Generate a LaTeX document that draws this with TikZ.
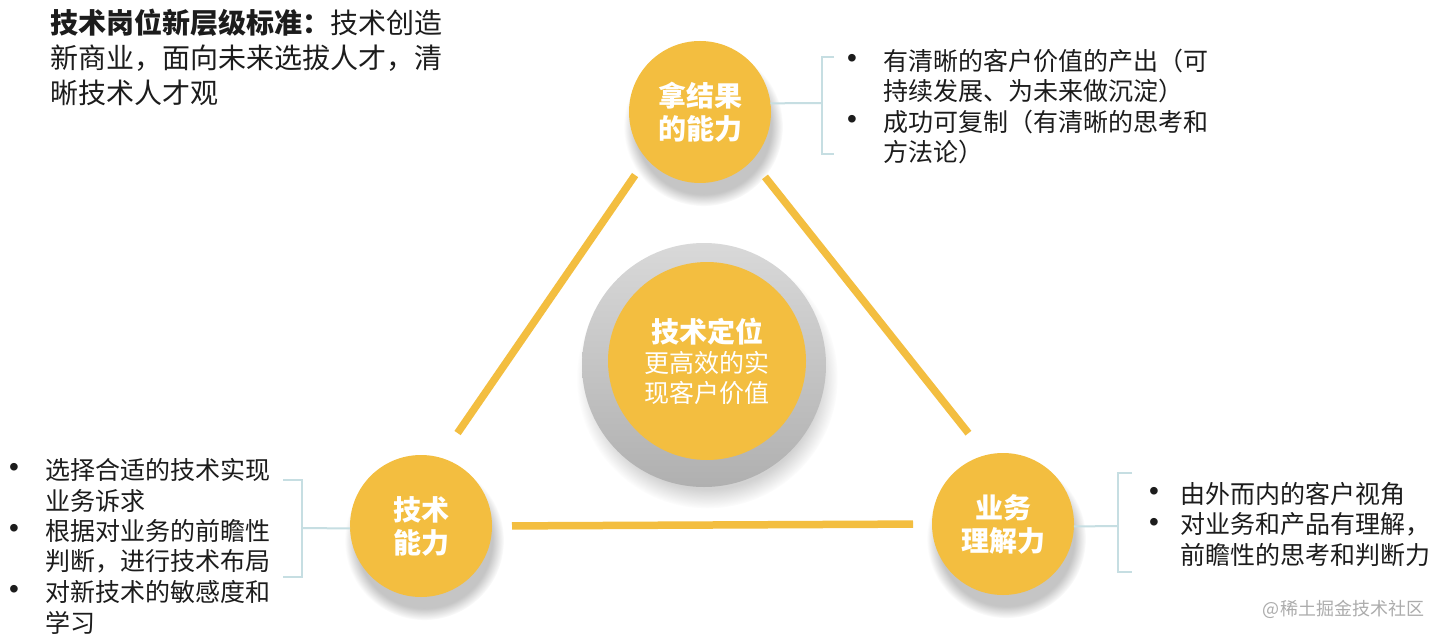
\documentclass[tikz,border=0pt]{standalone}
\usepackage{fontspec}
\setmainfont{Noto Sans CJK SC}
\newfontfamily\bulfont{Liberation Sans}
\usepackage{tikz}
\usetikzlibrary{shadows,fadings,positioning,calc}
\definecolor{ballyellow}{RGB}{243,190,64}
\definecolor{bracegray}{RGB}{198,222,226}
\definecolor{inkgray}{RGB}{28,28,28}

\begin{document}
\begin{tikzpicture}[
        x=1pt, y=-1pt,
        every node/.style={inner sep=0pt, outer sep=0pt, text=inkgray},
        ball/.style={circle, fill=ballyellow, minimum size=142pt, align=center, text=white,
            font=\bfseries\fontsize{28}{33}\selectfont,
            circular drop shadow={shadow xshift=3pt, shadow yshift=-13pt, shadow scale=1.12, opacity=0.45}},
        ring/.style={circle, minimum size=244pt, top color=gray!30, bottom color=gray!62,
            circular drop shadow={shadow xshift=3pt, shadow yshift=-12pt, shadow scale=1.07, opacity=0.35}},
        core/.style={circle, fill=ballyellow, minimum size=198pt, align=center, text=white,
            font=\fontsize{25}{30}\selectfont},
        link/.style={draw=ballyellow, line width=7.5pt},
        brace/.style={draw=bracegray, line width=2pt},
        item/.style={anchor=west, align=left, font=\fontsize{25}{30.5}\selectfont},
        dot/.style={font=\bulfont\fontsize{28}{30}\selectfont}
    ]
        \fill[white] (0,0) rectangle (1440,639);
        \useasboundingbox (0,0) rectangle (1440,639);

        % title
        \node[item, font=\fontsize{28}{35}\selectfont] (title) at (50,57)
            {{\bfseries 技术岗位新层级标准：}技术创造\\新商业，面向未来选拔人才，清\\晰技术人才观};

        % circles
        \node[ring] (Pos) at (704,365) {};
        \node[core] (Core) at (707,361)
            {{\bfseries\fontsize{28}{30}\selectfont 技术定位}\\更高效的实\\现客户价值};
        \node[ball] (R) at (700,112) {拿结果\\的能力};
        \node[ball] (T) at (421,526) {技术\\能力};
        \node[ball] (B) at (1003,524) {业务\\理解力};

        \path[link]
            (R.221) edge[shorten <=20pt, shorten >=30pt] (T.74.5)
            (R.317) edge[shorten <=21pt, shorten >=28pt] (B.104)
            (T.0) edge[shorten <=20pt, shorten >=19pt] (B.180);

        % brackets
        \coordinate (rbr) at (822,103);
        \coordinate (lbr) at (302,528);
        \coordinate (bbr) at (1118,526);
        \draw[brace] (R.7) -- (rbr);
        \draw[brace] ($(rbr)+(12,-46)$) -| (rbr) |- ($(rbr)+(12,51)$);
        \draw[brace] (T.182) -- (lbr);
        \draw[brace] ($(lbr)+(-19,-48)$) -| (lbr) |- ($(lbr)+(-19,49)$);
        \draw[brace] (B.358) -- (bbr);
        \draw[brace] ($(bbr)+(14,-53)$) -| (bbr) |- ($(bbr)+(14,46)$);

        % result list
        \node[dot] (r1) at (852,61) {•};
        \node[item] (r1t) at (883,76.25) {有清晰的客户价值的产出（可\\持续发展、为未来做沉淀）};
        \node[dot] (r2) at (852,122) {•};
        \node[item] (r2t) at (883,137.25) {成功可复制（有清晰的思考和\\方法论）};

        % tech list
        \node[dot] (t1) at (14,470) {•};
        \node[item] (t1t) at (45,485.25) {选择合适的技术实现\\业务诉求};
        \node[dot] (t2) at (14,531) {•};
        \node[item] (t2t) at (45,546.25) {根据对业务的前瞻性\\判断，进行技术布局};
        \node[dot] (t3) at (14,592) {•};
        \node[item] (t3t) at (45,607.25) {对新技术的敏感度和\\学习};

        % business list
        \node[dot] (b1) at (1154,494) {•};
        \node[item] (b1t) at (1180,494) {由外而内的客户视角};
        \node[dot] (b2) at (1154,524.5) {•};
        \node[item] (b2t) at (1180,539.75) {对业务和产品有理解，\\前瞻性的思考和判断力};

        \node[anchor=east, text=gray!65, font=\fontsize{18}{20}\selectfont] (mark) at (1424,609) {@稀土掘金技术社区};
    \end{tikzpicture}
\end{document}
